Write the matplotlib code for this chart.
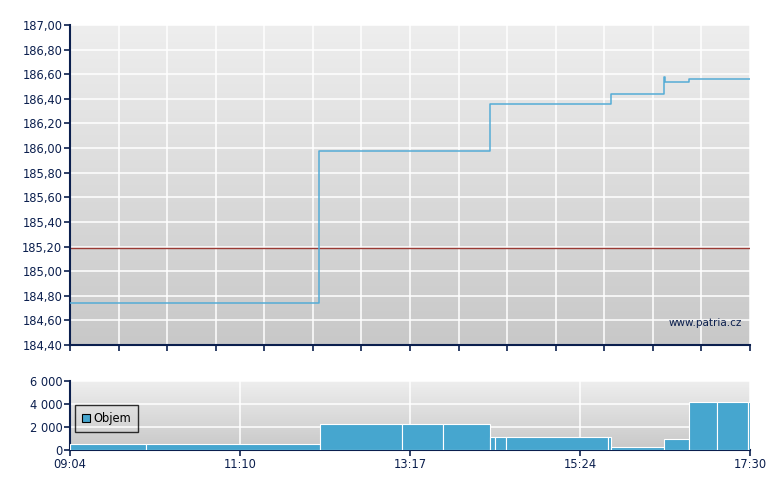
import numpy as np
import pandas as pd
import matplotlib
matplotlib.use('Agg')
import matplotlib.pyplot as plt
from matplotlib.colors import LinearSegmentedColormap
from matplotlib.patches import Patch

# price trades (step line)
price_times = ['09:04:00', '12:09:30', '14:16:30', '15:46:40', '16:25:55',
               '16:26:30', '16:44:55', '17:30:00']
price_values = [184.74, 185.98, 186.36, 186.44, 186.58, 186.54, 186.56, 186.56]
prev_close = 185.19

# volume bars: start of each interval, last entry closes the session
vol_edges = ['09:04:00', '10:00:36', '12:10:00', '13:11:00', '13:41:12', '14:16:30',
             '14:19:54', '14:28:06', '15:44:00', '15:46:54', '16:26:00', '16:44:36',
             '17:05:06', '17:28:30', '17:30:00']
vol_values = [550, 550, 2260, 2260, 2260, 1130, 1130, 1130, 1130, 220, 960,
              4170, 4170, 4170]

x_labels = ['09:04', '11:10', '13:17', '15:24', '17:30']

NAVY = '#0b1f4e'
BLUE = '#46a6cf'
LINE = '#55acd6'


def minutes(t):
    td = pd.to_timedelta(t) - pd.to_timedelta('09:04:00')
    return td.total_seconds() / 60.0


def gradient(ax, top, bottom):
    cmap = LinearSegmentedColormap.from_list('bg', [bottom, top])
    ax.imshow(np.linspace(1, 0, 256).reshape(-1, 1), cmap=cmap, aspect='auto',
              extent=[0, 1, 0, 1], transform=ax.transAxes, zorder=0)


def style(ax):
    for s in ['top', 'right']:
        ax.spines[s].set_visible(False)
    for s in ['left', 'bottom']:
        ax.spines[s].set_color(NAVY)
        ax.spines[s].set_linewidth(1.5)
    ax.tick_params(colors=NAVY, labelcolor=NAVY, labelsize=8.3, length=4, width=1.2, pad=1.5)
    ax.set_axisbelow(True)
    ax.grid(True, color='white', lw=1.1)


plt.rcParams['font.family'] = ['DejaVu Sans']
fig = plt.figure(figsize=(7.8, 4.9), dpi=100)

x_end = minutes('17:30:00')

# main price chart
ax = fig.add_axes([70 / 780, 1 - 345 / 490, 680 / 780, 320 / 490])
gradient(ax, '#eeeeee', '#c8c8c8')
pt = [minutes(t) for t in price_times]
ax.plot(pt, price_values, drawstyle='steps-post', color=LINE, lw=1.1, zorder=3)
ax.axhline(prev_close, color='#9a3a34', lw=1.0, zorder=2)
ax.set_xlim(0, x_end)
ax.set_ylim(184.4, 187.0)
ax.set_yticks(np.arange(184.4, 187.001, 0.2))
ax.set_yticklabels([f'{v:.2f}'.replace('.', ',') for v in np.arange(184.4, 187.001, 0.2)])
ax.set_xticks(np.linspace(0, x_end, 15))
ax.set_xticklabels([])
style(ax)
ax.text(0.988, 0.07, 'www.patria.cz', transform=ax.transAxes, ha='right', va='center',
        color=NAVY, fontsize=7.5)

# volume chart
bx = fig.add_axes([70 / 780, 1 - 450 / 490, 680 / 780, 69 / 490])
gradient(bx, '#eeeeee', '#c8c8c8')
ve = [minutes(t) for t in vol_edges]
bx.bar(ve[:-1], vol_values, width=np.diff(ve), align='edge', color=BLUE,
       edgecolor='white', linewidth=0.8, zorder=3)
bx.set_xlim(0, x_end)
bx.set_ylim(0, 6000)
bx.set_yticks([0, 2000, 4000, 6000])
bx.set_yticklabels(['0', '2 000', '4 000', '6 000'])
bx.set_xticks(np.linspace(0, x_end, 5))
bx.set_xticklabels(x_labels)
style(bx)
leg = bx.legend(handles=[Patch(facecolor=BLUE, edgecolor='black', lw=0.8, label='Objem')],
                loc='upper left', bbox_to_anchor=(0.007, 0.65), fontsize=8.3,
                frameon=True, fancybox=False, facecolor='none', edgecolor='black',
                handlelength=0.75, handleheight=0.75, handletextpad=0.3,
                borderpad=0.6, borderaxespad=0, labelcolor='black')
leg.get_frame().set_linewidth(1.0)

fig.savefig('out.png', dpi=100)
